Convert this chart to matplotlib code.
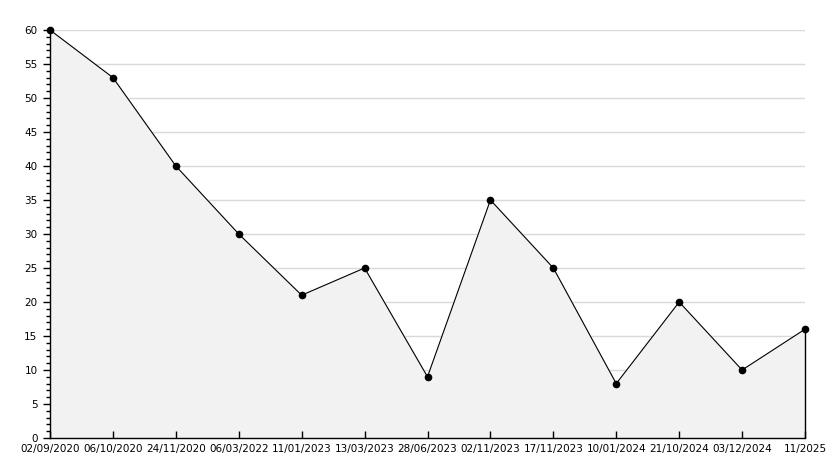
import matplotlib.pyplot as plt
from matplotlib.ticker import MultipleLocator

# Chart data
dates = ["02/09/2020", "06/10/2020", "24/11/2020", "06/03/2022", "11/01/2023",
         "13/03/2023", "28/06/2023", "02/11/2023", "17/11/2023", "10/01/2024",
         "21/10/2024", "03/12/2024", "11/2025"]
values = [60, 53, 40, 30, 21, 25, 9, 35, 25, 8, 20, 10, 16]

x = list(range(len(values)))

fig = plt.figure(figsize=(8.34, 4.68), dpi=100)
ax = fig.add_axes([50 / 834, 30 / 468, 755 / 834, 408 / 468])

# gridlines behind the filled area
for v in range(5, 61, 5):
    ax.axhline(v, color="#d9d9d9", lw=1, zorder=0)

ax.fill_between(x, values, 0, color="#f2f2f2", zorder=1)
ax.plot(x, values, color="black", lw=0.8, zorder=3, clip_on=False)
ax.plot(x, values, "o", color="black", ms=4.5, zorder=4, clip_on=False)
ax.vlines(x[-1], 0, values[-1], color="black", lw=1, zorder=3, clip_on=False)

ax.set_xlim(0, len(values) - 1)
ax.set_ylim(0, 60)
ax.set_xticks(x)
ax.set_xticklabels(dates)
ax.yaxis.set_major_locator(MultipleLocator(5))
ax.yaxis.set_minor_locator(MultipleLocator(1))

for s in ["top", "right"]:
    ax.spines[s].set_visible(False)
ax.spines["left"].set_linewidth(1)
ax.spines["bottom"].set_linewidth(1)

ax.tick_params(axis="x", direction="in", length=5, width=1, pad=4, labelsize=7.5)
ax.tick_params(axis="y", which="major", direction="out", length=5, width=1, pad=4, labelsize=7.5)
ax.tick_params(axis="y", which="minor", direction="out", length=3, width=1)

plt.savefig("out.png", dpi=100)
